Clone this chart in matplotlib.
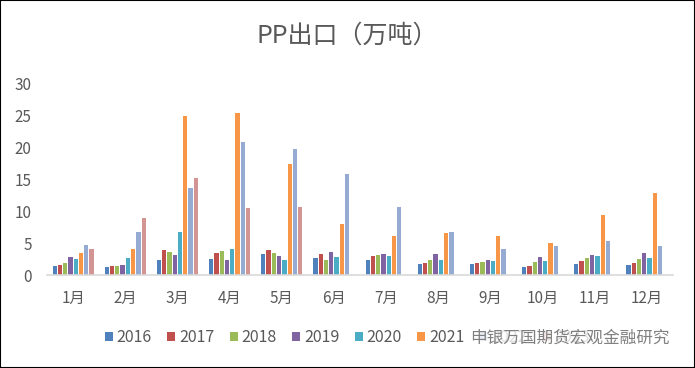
import numpy as np
import matplotlib
matplotlib.use("Agg")
import matplotlib.pyplot as plt
from matplotlib.patches import Rectangle

plt.rcParams['font.family'] = ['Noto Sans CJK SC', 'DejaVu Sans']

months = ["1月", "2月", "3月", "4月", "5月", "6月", "7月", "8月", "9月", "10月", "11月", "12月"]
years = ["2016", "2017", "2018", "2019", "2020", "2021", "2022", "2023"]
colors = ["#4F81BD", "#C0504D", "#9BBB59", "#8064A2", "#4BACC6", "#F79646", "#95ABD1", "#D39494"]

v2016 = [1.41, 1.26, 2.36, 2.51, 3.30, 2.67, 2.36, 1.73, 1.73, 1.26, 1.73, 1.57]
v2017 = [1.57, 1.41, 3.93, 3.46, 3.93, 3.30, 2.98, 1.88, 1.88, 1.41, 2.20, 1.88]
v2018 = [1.88, 1.41, 3.61, 3.77, 3.46, 2.36, 3.14, 2.36, 2.04, 2.04, 2.67, 2.51]
v2019 = [2.83, 1.57, 3.14, 2.36, 2.98, 3.61, 3.30, 3.30, 2.36, 2.83, 3.14, 3.46]
v2020 = [2.51, 2.67, 6.75, 4.08, 2.36, 2.83, 2.98, 2.36, 2.20, 2.20, 2.98, 2.67]
v2021 = [3.46, 4.08, 24.97, 25.45, 17.43, 8.01, 6.13, 6.60, 6.13, 5.03, 9.42, 12.88]
v2022 = [4.71, 6.75, 13.66, 20.89, 19.79, 15.86, 10.68, 6.75, 4.08, 4.55, 5.34, 4.55]
v2023 = [4.08, 8.95, 15.24, 10.52, 10.68]
series = [v2016, v2017, v2018, v2019, v2020, v2021, v2022, v2023]

fig = plt.figure(figsize=(6.95, 3.68), dpi=100)
fig.patches.append(Rectangle((0, 0), 1, 1, transform=fig.transFigure, fill=False,
                             edgecolor="black", linewidth=1.5))
ax = fig.add_axes([47/695, 1-275/368, 626/695, 191/368])

step = 0.101
width = 0.082
x = np.arange(len(months))
for i in range(len(years)):
    vals = series[i]
    xs = x[:len(vals)] + (i - 3.5) * step
    ax.bar(xs, vals, width=width, color=colors[i], label=years[i])

ax.set_xlim(-0.5, 11.5)
ax.set_ylim(0, 30)
ax.set_yticks(range(0, 31, 5))
ax.set_xticks(x)
ax.set_xticklabels(months)
for s in ["top", "right", "left"]:
    ax.spines[s].set_visible(False)
ax.spines["bottom"].set_color("#D9D9D9")
ax.spines["bottom"].set_linewidth(1.2)
ax.tick_params(axis="both", length=0, colors="#595959", labelsize=11)
ax.tick_params(axis="y", pad=11)
ax.tick_params(axis="x", pad=11)

fig.text(0.5, 1-36/368, "PP出口（万吨）", ha="center", va="center", fontsize=18, color="#595959")

fig.legend(loc="center", bbox_to_anchor=(347/695, 1-338/368), ncol=8, frameon=False,
           fontsize=11.5, labelcolor="#595959", handlelength=0.5, handleheight=0.5,
           handletextpad=0.25, columnspacing=0.95)

# watermark laid over the legend, as in the source image
fig.text(470/695, 1-338/368, "申银万国期货宏观金融研究", ha="left", va="center",
         fontsize=12, color="#808080", zorder=10,
         bbox=dict(facecolor="white", edgecolor="none", alpha=0.8, pad=1))

plt.savefig("out.png", dpi=100)
